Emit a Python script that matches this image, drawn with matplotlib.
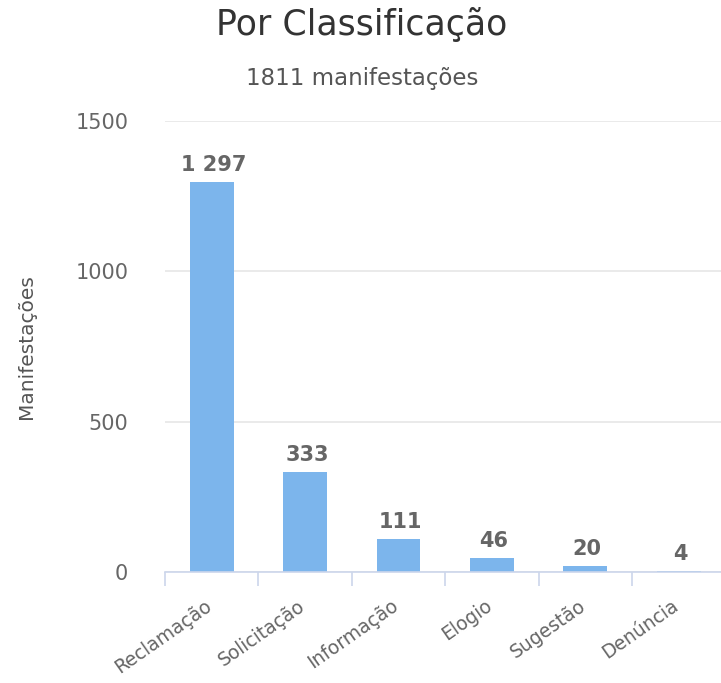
import matplotlib
matplotlib.use("Agg")
import matplotlib.pyplot as plt
import matplotlib.transforms as mtrans

categories = ["Reclamação", "Solicitação", "Informação", "Elogio", "Sugestão", "Denúncia"]
values = [1297, 333, 111, 46, 20, 4]
value_labels = ["1 297", "333", "111", "46", "20", "4"]
y_ticks = [0, 500, 1000, 1500]
title = "Por Classificação"
subtitle = "1811 manifestações"
y_title = "Manifestações"

plt.rcParams['font.family'] = ['DejaVu Sans']

W, H = 721, 683
fig = plt.figure(figsize=(W / 100, H / 100), dpi=100)
left, right, top, bottom = 165, 725, 121, 572
ax = fig.add_axes([left / W, (H - bottom) / H, (right - left) / W, (bottom - top) / H])

x = list(range(len(categories)))
ax.bar(x, values, width=0.47, color="#7cb5ec", zorder=3)

ax.set_xlim(-0.5, -0.5 + (right - left) / 93.4)
ax.set_ylim(0, 1500)

ax.set_yticks(y_ticks)
ax.set_yticklabels([str(v) for v in y_ticks], color="#666666", fontsize=15)
ax.tick_params(axis='y', length=0, pad=26.5)
ax.yaxis.grid(True, color="#e6e6e6", linewidth=1.2, zorder=0)
ax.set_axisbelow(True)

for s in ["top", "right", "left"]:
    ax.spines[s].set_visible(False)
ax.spines["bottom"].set_color("#ccd6eb")
ax.spines["bottom"].set_linewidth(1.2)
ax.spines["bottom"].set_zorder(4)

# tick marks at category boundaries
ax.set_xticks([i - 0.5 for i in range(len(categories))])
ax.set_xticklabels([])
ax.tick_params(axis='x', length=10, width=1.2, color="#ccd6eb", direction='out')

# rotated category labels
offset = mtrans.ScaledTranslation(-2 / 100, -32 / 100, fig.dpi_scale_trans)
for i, c in enumerate(categories):
    ax.text(i, 0, c, rotation=35, rotation_mode='anchor', ha='right', va='center',
            fontsize=13.5, color="#666666",
            transform=mtrans.blended_transform_factory(ax.transData, ax.transAxes) + offset,
            clip_on=False)

# data labels
for i, (v, lab) in enumerate(zip(values, value_labels)):
    ax.annotate(lab, (i, v), xytext=(2, 11), textcoords='offset pixels',
                ha='center', va='baseline', fontsize=15, fontweight='bold', color="#666666")

fig.text(362 / W, 1 - 35 / H, title, ha='center', va='baseline', fontsize=25, color="#333333")
fig.text(362 / W, 1 - 85 / H, subtitle, ha='center', va='baseline', fontsize=16.5, color="#555555")
fig.text(26 / W, 1 - 347 / H, y_title, ha='center', va='center', rotation=90,
         fontsize=14.5, color="#555555")

fig.savefig("out.png", dpi=100)
